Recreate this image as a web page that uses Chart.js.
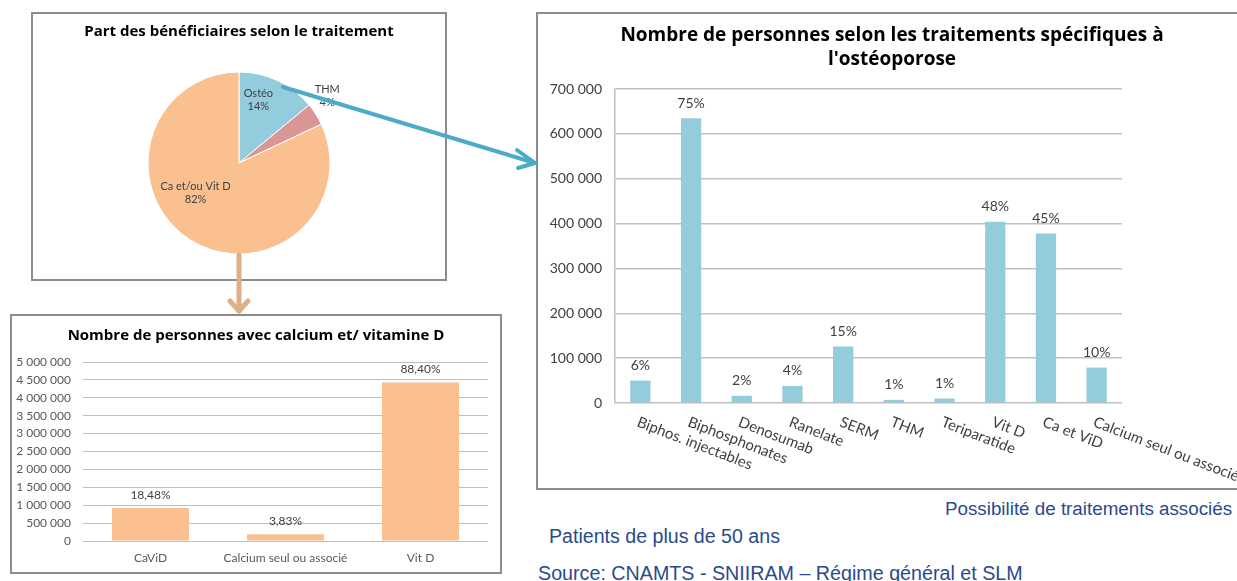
<!DOCTYPE html>
<html lang="fr">
<head>
<meta charset="utf-8">
<title>Traitements ostéoporose</title>
<script src="https://cdn.jsdelivr.net/npm/chart.js@4.4.0/dist/chart.umd.min.js"></script>
<style>
html, body { margin: 0; padding: 0; background: #fff; }
#slide { position: relative; width: 1237px; height: 581px; overflow: hidden; font-family: "Liberation Sans", Arial, sans-serif; }
.box { position: absolute; border: 2px solid #8c8c8c; box-sizing: border-box; background: #fff; }
.box canvas { display: block; }
#boxPie { left: 31px; top: 12px; width: 416px; height: 269px; }
#boxCa { left: 10px; top: 314px; width: 492px; height: 260px; }
#boxOst { left: 536px; top: 12px; width: 720px; height: 478px; }
.note { position: absolute; color: #2a4a8e; white-space: nowrap; }
#fleches { position: absolute; left: 0; top: 0; }
</style>
</head>
<body>
<div id="slide">
  <div class="box" id="boxPie"><canvas id="pie" width="412" height="265"></canvas></div>
  <div class="box" id="boxCa"><canvas id="calcium" width="488" height="256"></canvas></div>
  <div class="box" id="boxOst"><canvas id="osteo" width="716" height="474"></canvas></div>

  <div class="note" style="left:945px; top:498px; font-size:18.8px;">Possibilité de traitements associés</div>
  <div class="note" style="left:549px; top:525px; font-size:19.6px;">Patients de plus de 50 ans</div>
  <div class="note" style="left:538px; top:562px; font-size:19.7px;">Source: CNAMTS - SNIIRAM – Régime général et SLM</div>

  <svg id="fleches" width="1237" height="581">
    <g stroke="#4bacc6" stroke-width="4" fill="none" stroke-linecap="round" stroke-linejoin="round">
      <line x1="283" y1="87" x2="535" y2="163"/>
      <polyline points="517,150 535,163 518,168"/>
    </g>
    <g stroke="#dcb088" stroke-width="5" fill="none" stroke-linecap="round" stroke-linejoin="round">
      <line x1="239" y1="255" x2="239" y2="311"/>
      <polyline points="230,301 239,311 248,301"/>
    </g>
  </svg>
</div>

<script>
// camembert
var pieLabels = ['Ostéo', 'THM', 'Ca et/ou Vit D'];
var pieValues = [14, 4, 82];

// calcium / vitamine D
var caLabels = ['CaViD', 'Calcium seul ou associé', 'Vit D'];
var caValues = [920000, 190000, 4430000];
var caShares = ['18,48%', '3,83%', '88,40%'];
var caTicks = [0, 500000, 1000000, 1500000, 2000000, 2500000, 3000000, 3500000, 4000000, 4500000, 5000000];

// traitements spécifiques
var ostLabels = ['Biphos. injectables', 'Biphosphonates', 'Denosumab', 'Ranelate', 'SERM', 'THM', 'Teriparatide', 'Vit D', 'Ca et ViD', 'Calcium seul ou associé'];
var ostValues = [50000, 635000, 16000, 38000, 126000, 7000, 10000, 404000, 378000, 79000];
var ostShares = ['6%', '75%', '2%', '4%', '15%', '1%', '1%', '48%', '45%', '10%'];
var ostTicks = [0, 100000, 200000, 300000, 400000, 500000, 600000, 700000];

var police = 'Lato, "Open Sans", sans-serif';
var policeTitre = '"Open Sans", Lato, sans-serif';
Chart.defaults.font.family = police;
Chart.defaults.animation = false;

function milliers(v) {
    return String(v).replace(/\B(?=(\d{3})+(?!\d))/g, ' ');
}

var etiquettesPie = {
    id: 'etiquettesPie',
    afterDatasetsDraw: function (chart, args, opts) {
        var ctx = chart.ctx;
        var meta = chart.getDatasetMeta(0);
        ctx.save();
        ctx.font = opts.font;
        ctx.fillStyle = opts.color;
        ctx.textAlign = 'center';
        ctx.textBaseline = 'middle';
        meta.data.forEach(function (arc, i) {
            var p = arc.getProps(['x', 'y', 'startAngle', 'endAngle', 'outerRadius'], true);
            var a = (p.startAngle + p.endAngle) / 2 + opts.decalage[i] * Math.PI / 180;
            var d = p.outerRadius * opts.distance[i];
            var cx = p.x + Math.cos(a) * d;
            var cy = p.y + Math.sin(a) * d;
            ctx.fillText(chart.data.labels[i], cx, cy - 6.5);
            ctx.fillText(chart.data.datasets[0].data[i] + '%', cx, cy + 6.5);
        });
        ctx.restore();
    }
};

var valeurs = {
    id: 'valeurs',
    afterDatasetsDraw: function (chart, args, opts) {
        var ctx = chart.ctx;
        ctx.save();
        ctx.font = opts.font;
        ctx.fillStyle = opts.color;
        ctx.textAlign = 'center';
        ctx.textBaseline = 'middle';
        chart.getDatasetMeta(0).data.forEach(function (bar, i) {
            ctx.fillText(opts.textes[i], bar.x, bar.y - opts.ecart);
        });
        ctx.restore();
    }
};

var etiquettesPenchees = {
    id: 'etiquettesPenchees',
    afterDraw: function (chart, args, opts) {
        var x = chart.scales.x;
        var ctx = chart.ctx;
        ctx.save();
        ctx.font = opts.font;
        ctx.fillStyle = opts.color;
        ctx.textAlign = 'left';
        ctx.textBaseline = 'top';
        chart.data.labels.forEach(function (lab, i) {
            ctx.save();
            ctx.translate(x.getPixelForValue(i) + opts.dx, x.top + opts.dy);
            ctx.rotate(opts.angle * Math.PI / 180);
            ctx.fillText(lab, 0, 0);
            ctx.restore();
        });
        ctx.restore();
    }
};

new Chart(document.getElementById('pie'), {
    type: 'pie',
    data: {
        labels: pieLabels,
        datasets: [{
            data: pieValues,
            backgroundColor: ['#93cddd', '#d99694', '#fac090'],
            borderColor: '#ffffff',
            borderWidth: 1,
            hoverOffset: 0
        }]
    },
    options: {
        responsive: false,
        radius: 91,
        layout: { padding: { left: 0, right: 0, top: 0, bottom: 25 } },
        plugins: {
            legend: { display: false },
            tooltip: { enabled: false },
            title: {
                display: true,
                text: 'Part des bénéficiaires selon le traitement',
                color: '#000',
                font: { family: policeTitre, size: 15, weight: 'bold', lineHeight: 1.2 },
                padding: { top: 9, bottom: 31 }
            },
            etiquettesPie: {
                font: '11px ' + police,
                color: '#404040',
                distance: [0.72, 1.22, 0.58],
                decalage: [-8, -5, 23]
            }
        }
    },
    plugins: [etiquettesPie]
});

new Chart(document.getElementById('calcium'), {
    type: 'bar',
    data: {
        labels: caLabels,
        datasets: [{
            data: caValues,
            backgroundColor: '#fac090',
            barPercentage: 0.57,
            categoryPercentage: 1
        }]
    },
    options: {
        responsive: false,
        layout: { padding: 0 },
        scales: {
            x: {
                grid: { display: false, drawTicks: false },
                border: { display: false },
                ticks: { color: '#595959', font: { size: 12 }, padding: 10, autoSkip: false, maxRotation: 0 },
                afterFit: function (s) { s.height = 31; }
            },
            y: {
                min: 0,
                max: 5000000,
                afterBuildTicks: function (s) { s.ticks = caTicks.map(function (v) { return { value: v }; }); },
                grid: { color: '#bfbfbf', lineWidth: 1, drawTicks: false },
                border: { display: false },
                ticks: { color: '#595959', font: { size: 12 }, padding: 12, callback: milliers },
                afterFit: function (s) { s.width = 71; }
            },
            marge: {
                type: 'linear',
                position: 'right',
                grid: { display: false, drawTicks: false },
                border: { display: false },
                ticks: { display: false },
                afterFit: function (s) { s.width = 12; }
            }
        },
        plugins: {
            legend: { display: false },
            tooltip: { enabled: false },
            title: {
                display: true,
                text: 'Nombre de personnes avec calcium et/ vitamine D',
                color: '#000',
                font: { family: policeTitre, size: 15, weight: 'bold', lineHeight: 1.2 },
                padding: { top: 11, bottom: 17 }
            },
            valeurs: { textes: caShares, font: '12px ' + police, color: '#404040', ecart: 13 }
        }
    },
    plugins: [valeurs]
});

new Chart(document.getElementById('osteo'), {
    type: 'bar',
    data: {
        labels: ostLabels,
        datasets: [{
            data: ostValues,
            backgroundColor: '#93cddd',
            barPercentage: 0.4,
            categoryPercentage: 1
        }]
    },
    options: {
        responsive: false,
        layout: { padding: { left: 10, right: 18, top: 0, bottom: 0 } },
        scales: {
            x: {
                grid: { display: false, drawTicks: false },
                border: { display: false },
                ticks: { display: false },
                afterFit: function (s) { s.height = 85; }
            },
            y: {
                min: 0,
                max: 700000,
                afterBuildTicks: function (s) { s.ticks = ostTicks.map(function (v) { return { value: v }; }); },
                grid: { color: '#bfbfbf', lineWidth: 1.5, drawTicks: false },
                border: { display: true, color: '#bfbfbf', width: 1.5 },
                ticks: { color: '#404040', font: { size: 14 }, padding: 13, callback: milliers },
                afterFit: function (s) { s.width = 67; }
            },
            marge: {
                type: 'linear',
                position: 'right',
                grid: { display: false, drawTicks: false },
                border: { display: false },
                ticks: { display: false },
                afterFit: function (s) { s.width = 114; }
            }
        },
        plugins: {
            legend: { display: false },
            tooltip: { enabled: false },
            title: {
                display: true,
                text: ["Nombre de personnes selon les traitements spécifiques à", "l'ostéoporose"],
                color: '#000',
                font: { family: policeTitre, size: 19, weight: 'bold', lineHeight: 24 / 19 },
                padding: { top: 10, bottom: 17 }
            },
            valeurs: { textes: ostShares, font: '14px ' + police, color: '#404040', ecart: 15 },
            etiquettesPenchees: { font: '15px ' + police, color: '#404040', dx: 0, dy: 11.5, angle: 21 }
        }
    },
    plugins: [valeurs, etiquettesPenchees]
});
</script>
</body>
</html>
